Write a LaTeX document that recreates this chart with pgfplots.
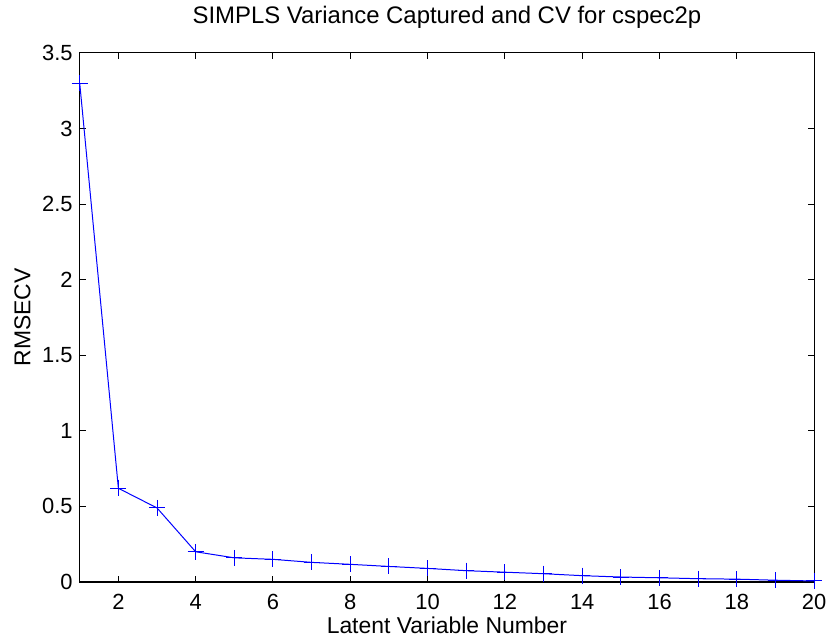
\documentclass[border=0pt]{standalone}
\usepackage{fontspec}
\setmainfont{Liberation Sans}
\usepackage{pgfplots}
\pgfplotsset{compat=1.18}
\begin{document}
\begin{tikzpicture}
\begin{axis}[
  name=ax,
  scale only axis,
  width=368.5pt, height=265.5pt,
  xmin=1, xmax=20, ymin=0, ymax=3.5,
  xtick={2,4,...,20},
  ytick={0,0.5,...,3.5},
  tick align=inside,
  major tick length=3pt,
  axis line style={black, line width=0.6pt},
  tick style={black, line width=0.5pt},
  /pgf/number format/assume math mode=true,
  ticklabel style={font=\fontsize{11}{13}\selectfont},
  yticklabel style={/pgf/number format/fixed},
  xticklabel style={yshift=-2.5pt},
  title={SIMPLS Variance Captured and CV for cspec2p},
  title style={font=\fontsize{12}{14}\selectfont, at={(axis description cs:0.5,1)}, anchor=base, yshift=8.5pt},
  xlabel={Latent Variable Number},
  ylabel={RMSECV},
  label style={font=\fontsize{11.5}{13}\selectfont},
  xlabel style={at={(axis description cs:0.5,0)}, anchor=base, yshift=-26pt},
  ylabel style={at={(axis description cs:0,0.5)}, anchor=center, yshift=28.75pt},
  clip=false,
]
\addplot[blue, line width=0.5pt, mark=+, mark size=4pt, mark options={blue, solid}] coordinates {
(1,3.30) (2,0.62) (3,0.49) (4,0.20) (5,0.16) (6,0.15) (7,0.13) (8,0.117)
(9,0.103) (10,0.09) (11,0.075) (12,0.065) (13,0.055) (14,0.042) (15,0.033)
(16,0.028) (17,0.022) (18,0.019) (19,0.012) (20,0.007)
};
\end{axis}
\path ([shift={(-40pt,-27.5pt)}]ax.south west) rectangle ([shift={(8pt,22.5pt)}]ax.north east);
\end{tikzpicture}
\end{document}
